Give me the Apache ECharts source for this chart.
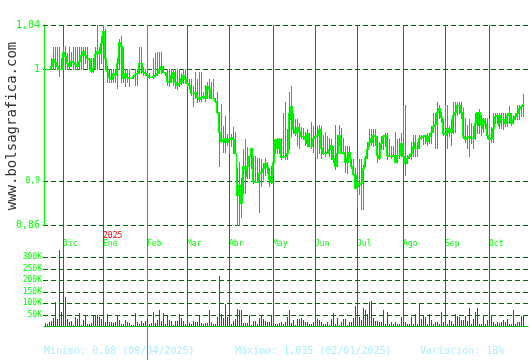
<!DOCTYPE html>
<html><head><meta charset="utf-8">
<script src="https://cdn.jsdelivr.net/npm/echarts@6/dist/echarts.min.js"></script>
<style>html,body{margin:0;padding:0;background:#fff}#c{width:530px;height:360px}</style>
</head><body><div id="c"></div>
<script>
// ---- data (one entry per trading day, late Nov 2024 -> late Oct 2025) ----
const open = [
1.000,1.000,1.000,1.000,1.003,1.009,1.007,1.003,1.000,1.000,
1.016,1.012,1.006,1.003,1.008,1.007,1.005,1.003,1.008,1.013,
1.017,1.013,1.010,1.009,0.999,1.001,1.014,1.017,1.015,1.024,
1.035,1.002,0.999,0.993,0.991,0.997,0.995,1.006,1.025,1.012,
0.992,0.997,0.993,0.992,0.992,0.994,0.996,0.997,1.006,1.002,
0.998,0.997,0.995,0.993,0.993,0.994,0.995,0.997,1.000,1.003,
0.998,0.997,0.990,0.989,0.992,0.998,0.989,0.986,0.988,0.989,
0.995,0.991,0.988,0.986,0.979,0.979,0.980,0.975,0.973,0.975,
0.976,0.976,0.985,0.982,0.974,0.974,0.972,0.962,0.944,0.936,
0.935,0.938,0.935,0.937,0.939,0.931,0.893,0.887,0.887,0.904,
0.913,0.904,0.913,0.922,0.920,0.900,0.899,0.904,0.907,0.908,
0.911,0.916,0.905,0.904,0.910,0.929,0.937,0.929,0.925,0.921,
0.922,0.922,0.947,0.955,0.950,0.946,0.943,0.948,0.941,0.940,
0.940,0.934,0.932,0.931,0.931,0.938,0.940,0.941,0.940,0.926,
0.925,0.926,0.925,0.928,0.926,0.920,0.913,0.932,0.926,0.925,
0.921,0.921,0.922,0.914,0.913,0.904,0.905,0.895,0.897,0.898,
0.913,0.920,0.931,0.935,0.935,0.941,0.932,0.923,0.929,0.937,
0.940,0.932,0.923,0.922,0.922,0.919,0.917,0.923,0.925,0.926,
0.917,0.916,0.920,0.922,0.925,0.935,0.929,0.932,0.938,0.939,
0.940,0.940,0.937,0.940,0.944,0.949,0.955,0.962,0.961,0.949,
0.943,0.941,0.944,0.946,0.950,0.959,0.962,0.968,0.965,0.955,
0.938,0.937,0.939,0.940,0.938,0.943,0.958,0.950,0.953,0.947,
0.955,0.952,0.941,0.937,0.938,0.955,0.958,0.950,0.953,0.955,
0.955,0.952,0.959,0.955,0.952,0.955,0.958,0.962,0.965,0.967];
const close = [
1.000,1.000,1.000,1.003,1.009,1.007,1.003,1.000,1.000,1.016,
1.012,1.006,1.003,1.008,1.007,1.005,1.003,1.008,1.013,1.017,
1.013,1.010,1.009,0.999,1.001,1.014,1.017,1.015,1.024,1.035,
1.010,0.999,0.993,0.991,0.997,0.995,1.006,1.025,1.021,0.992,
0.997,0.993,0.992,0.992,0.994,0.996,0.997,1.006,1.006,0.998,
0.997,0.995,0.993,0.993,0.994,0.995,0.997,1.000,1.003,0.998,
0.997,0.990,0.989,0.995,0.998,0.989,0.986,0.988,0.992,0.995,
0.991,0.988,0.986,0.979,0.979,0.980,0.975,0.973,0.975,0.976,
0.974,0.985,0.982,0.974,0.974,0.972,0.962,0.944,0.936,0.937,
0.938,0.935,0.937,0.939,0.937,0.925,0.887,0.896,0.880,0.913,
0.910,0.913,0.922,0.929,0.900,0.899,0.899,0.907,0.908,0.911,
0.916,0.912,0.901,0.899,0.917,0.937,0.929,0.937,0.921,0.922,
0.922,0.925,0.961,0.967,0.946,0.943,0.948,0.945,0.940,0.940,
0.937,0.943,0.931,0.931,0.938,0.940,0.941,0.946,0.929,0.925,
0.925,0.925,0.928,0.932,0.919,0.913,0.925,0.941,0.925,0.926,
0.917,0.917,0.926,0.913,0.906,0.893,0.898,0.897,0.898,0.911,
0.920,0.928,0.935,0.938,0.941,0.940,0.923,0.920,0.934,0.940,
0.941,0.923,0.922,0.922,0.923,0.917,0.923,0.923,0.934,0.922,
0.916,0.920,0.922,0.925,0.931,0.929,0.929,0.938,0.939,0.940,
0.941,0.936,0.940,0.944,0.949,0.951,0.962,0.965,0.957,0.943,
0.942,0.947,0.946,0.944,0.959,0.962,0.968,0.968,0.962,0.940,
0.937,0.939,0.940,0.938,0.938,0.952,0.962,0.962,0.950,0.955,
0.952,0.941,0.937,0.938,0.947,0.958,0.959,0.959,0.955,0.955,
0.952,0.959,0.961,0.952,0.955,0.958,0.961,0.965,0.967,0.969];
const high = [
1.000,1.000,1.000,1.010,1.020,1.020,1.020,1.020,1.010,1.020,
1.021,1.015,1.020,1.016,1.020,1.020,1.020,1.020,1.020,1.020,
1.020,1.020,1.010,1.010,1.010,1.020,1.040,1.020,1.030,1.040,
1.036,1.003,1.000,1.000,1.000,1.000,1.010,1.027,1.030,1.020,
1.000,1.000,1.000,0.992,0.995,1.000,1.000,1.020,1.020,1.002,
1.000,0.997,0.997,0.993,1.010,1.015,1.016,1.016,1.016,1.003,
0.998,1.000,1.000,1.000,1.000,1.000,1.000,1.000,0.997,1.000,
1.000,0.991,0.991,0.991,0.985,0.998,0.991,0.998,0.998,0.980,
0.986,0.989,0.991,0.989,0.991,0.974,0.980,0.962,0.969,0.949,
0.958,0.942,0.963,0.942,0.948,0.944,0.911,0.917,0.902,0.928,
0.937,0.930,0.922,0.929,0.922,0.922,0.920,0.920,0.919,0.916,
0.920,0.917,0.911,0.913,0.937,0.937,0.938,0.938,0.938,0.961,
0.971,0.946,0.980,0.985,0.961,0.955,0.955,0.952,0.948,0.947,
0.944,0.946,0.943,0.953,0.949,0.941,0.949,0.950,0.949,0.941,
0.944,0.940,0.938,0.937,0.931,0.950,0.941,0.950,0.947,0.938,
0.931,0.931,0.931,0.919,0.919,0.911,0.919,0.919,0.919,0.914,
0.922,0.935,0.946,0.946,0.946,0.946,0.940,0.935,0.940,0.941,
0.943,0.943,0.937,0.931,0.931,0.944,0.937,0.938,0.943,0.968,
0.968,0.923,0.924,0.935,0.941,0.941,0.935,0.941,0.941,0.941,
0.941,0.943,0.943,0.949,0.961,0.961,0.971,0.968,0.962,0.955,
0.968,0.968,0.949,0.955,0.971,0.971,0.971,0.971,0.971,0.965,
0.956,0.950,0.955,0.952,0.949,0.961,0.962,0.964,0.959,0.956,
0.956,0.956,0.955,0.948,0.961,0.961,0.961,0.961,0.961,0.961,
0.961,0.961,0.967,0.961,0.959,0.961,0.968,0.968,0.968,0.978];
const low = [
1.000,1.000,1.000,1.000,1.000,1.000,1.000,0.994,1.000,1.000,
1.000,1.000,1.000,1.003,1.000,1.000,1.000,1.000,1.000,1.000,
1.006,1.000,1.000,0.998,0.998,1.000,1.000,1.000,1.006,1.000,
1.000,0.989,0.989,0.989,0.989,0.989,0.983,1.000,0.989,0.989,
0.985,0.989,0.985,0.992,0.992,0.986,0.986,0.997,0.997,0.995,
0.995,0.995,0.992,0.993,0.992,0.994,0.995,0.997,0.997,0.998,
0.995,0.986,0.985,0.989,0.986,0.983,0.982,0.985,0.987,0.988,
0.988,0.985,0.982,0.977,0.967,0.974,0.971,0.972,0.972,0.974,
0.972,0.974,0.974,0.974,0.974,0.971,0.961,0.913,0.935,0.926,
0.926,0.932,0.925,0.931,0.925,0.925,0.860,0.860,0.867,0.889,
0.889,0.902,0.902,0.911,0.898,0.899,0.899,0.872,0.895,0.901,
0.905,0.907,0.895,0.898,0.905,0.925,0.925,0.925,0.919,0.921,
0.919,0.919,0.928,0.940,0.943,0.941,0.932,0.929,0.938,0.937,
0.932,0.931,0.931,0.929,0.926,0.922,0.920,0.925,0.920,0.924,
0.922,0.925,0.922,0.919,0.917,0.910,0.913,0.932,0.925,0.925,
0.908,0.907,0.920,0.911,0.905,0.893,0.876,0.888,0.874,0.874,
0.913,0.920,0.931,0.932,0.931,0.932,0.917,0.919,0.928,0.928,
0.931,0.919,0.922,0.920,0.922,0.917,0.917,0.920,0.922,0.916,
0.905,0.916,0.920,0.919,0.922,0.922,0.922,0.929,0.937,0.933,
0.934,0.932,0.934,0.934,0.944,0.929,0.929,0.956,0.953,0.941,
0.941,0.929,0.940,0.932,0.943,0.944,0.959,0.961,0.956,0.938,
0.935,0.929,0.922,0.934,0.929,0.937,0.943,0.943,0.941,0.944,
0.947,0.938,0.935,0.935,0.935,0.952,0.952,0.947,0.947,0.946,
0.949,0.949,0.952,0.950,0.952,0.955,0.955,0.955,0.958,0.958];
const volumeK = [
11,8,17,20,35,105,30,330,61,234,
128,29,18,21,4,39,30,57,5,26,
44,10,10,13,48,48,48,41,29,17,
18,53,17,17,11,17,48,25,10,7,
26,16,11,4,4,56,17,8,21,14,
21,35,10,13,61,14,26,70,21,57,
8,44,26,23,4,21,21,53,35,20,
8,20,11,8,21,17,17,44,11,8,
11,11,70,17,8,8,39,220,53,33,
97,39,41,8,21,30,74,70,70,13,
13,13,48,4,21,21,8,35,44,30,
22,17,17,48,8,8,8,14,17,8,
17,39,70,11,26,4,31,31,35,26,
17,17,8,8,17,26,31,26,17,8,
8,17,4,31,57,8,35,4,17,31,
31,4,17,17,35,88,17,39,26,79,
70,53,106,110,35,22,22,17,17,70,
8,62,8,17,8,17,8,8,39,17,
17,8,8,39,8,53,8,97,31,44,
39,8,53,26,8,17,17,8,62,17,
17,8,26,22,8,53,44,39,26,26,
44,22,79,8,31,62,79,8,8,48,
8,26,62,48,17,8,17,13,17,26,
17,31,8,8,70,8,17,17,44,44];
const monthIdx = [9,29,51,71,92,114,135,156,179,200,222];
const monthLabels = ['Dic','Ene','Feb','Mar','Abr','May','Jun','Jul','Ago','Sep','Oct'];
const yearIdx = 29, yearLabel = '2025';
const priceTicks = [0.86, 0.9, 1, 1.04];
const priceTickText = ['0,86', '0,9', '1', '1,04'];
const volTicksK = [50, 100, 150, 200, 250, 300];
const cursorIdx = 51;
const footer = ['Mínimo: 0,88 (09/04/2025)', 'Máximo: 1,035 (02/01/2025)', 'Variación: 18%'];

// ---- styles ----
const TEAL = '#1ea0b2', GREEN = '#00ff00', BODY = '#00e600', RED = '#f00000';
const MONTH = '#009000', DASH = '#006a00', MONO = '"DejaVu Sans Mono", monospace';

const N = close.length;
const cats = Array.from({length: N + 2}, (_, i) => String(i));

function box(x, y, w, h, fill) {
  return {type: 'rect', shape: {x: x, y: y, width: w, height: h}, style: {fill: fill, stroke: 'none', lineWidth: 0}};
}
function priceItem(params, api) {
  const i = api.value(0);
  const pO = api.coord([i, api.value(1)]), pC = api.coord([i, api.value(2)]);
  const pL = api.coord([i, api.value(3)]), pH = api.coord([i, api.value(4)]);
  const x = Math.floor(pC[0]);
  const ch = [];
  const yh = Math.round(pH[1]), yl = Math.round(pL[1]);
  if (yl - yh > 0) ch.push(box(x, yh, 1, yl - yh + 1, TEAL));
  const t = Math.round(Math.min(pO[1], pC[1])), b = Math.round(Math.max(pO[1], pC[1]));
  if (b - t >= 1) ch.push(box(x - 1, t, 1, b - t + 1, BODY));
  const yc = Math.round(pC[1]);
  ch.push(box(x - 1, yc, 2, 1, GREEN));
  if (i > 0) {
    const yp = Math.round(api.coord([i - 1, close[i - 1]])[1]);
    ch.push(box(x - 1, Math.min(yp, yc), 1, Math.abs(yp - yc) + 1, GREEN));
  }
  return {type: 'group', children: ch};
}
function volItem(params, api) {
  const i = api.value(0);
  const p = api.coord([i, api.value(1)]), p0 = api.coord([i, 0]);
  const x = Math.floor(p[0]);
  const t = Math.round(p[1]), b = Math.round(p0[1]);
  return box(x, t, 1, b - t, RED);
}
function vLine(color) {
  return function (params, api) {
    const x = Math.floor(api.coord([api.value(0), 0])[0]);
    const cs = params.coordSys;
    return box(x, cs.y, 1, cs.height, color);
  };
}
function hDash(params, api) {
  const y = Math.round(api.coord([0, api.value(1)])[1]) + 0.5;
  const cs = params.coordSys;
  return {type: 'line', shape: {x1: cs.x - 1, y1: y, x2: cs.x + cs.width, y2: y},
    style: {stroke: DASH, fill: 'none', lineWidth: 1, lineDash: [5, 3]}};
}

const xBase = {type: 'category', data: cats, boundaryGap: true,
  axisLine: {show: false}, axisTick: {show: false}, axisLabel: {show: false}, splitLine: {show: false}};

const option = {
  animation: false,
  backgroundColor: '#fff',
  grid: [
    {left: 44, top: 25, width: 484, height: 200},
    {left: 44, top: 250, width: 484, height: 76},
    {left: 44, top: 25, width: 484, height: 301},
    {left: 44, top: 25, width: 484, height: 335}
  ],
  xAxis: [
    Object.assign({}, xBase, {gridIndex: 0, axisLabel: {
      show: true, interval: (idx) => monthIdx.indexOf(idx) >= 0,
      align: 'left', verticalAlign: 'bottom', margin: 23,
      formatter: (v, idx) => {
        const k = monthIdx.indexOf(idx);
        if (k < 0) return '';
        return idx === yearIdx ? '{y|' + yearLabel + '}\n{m|' + monthLabels[k] + '}' : '{m|' + monthLabels[k] + '}';
      },
      rich: {
        m: {color: GREEN, fontSize: 8, fontFamily: MONO, lineHeight: 8},
        y: {color: '#ff0000', fontSize: 8, fontFamily: MONO, lineHeight: 8}
      }
    }}),
    Object.assign({}, xBase, {gridIndex: 1, axisLine: {show: true, lineStyle: {color: '#00c000', width: 1}}}),
    Object.assign({}, xBase, {gridIndex: 2}),
    Object.assign({}, xBase, {gridIndex: 3})
  ],
  yAxis: [
    {type: 'value', gridIndex: 0, min: 0.86, max: 1.04, interval: 0.02,
      axisLine: {show: true, lineStyle: {color: GREEN}}, axisTick: {show: false}, splitLine: {show: false},
      axisLabel: {margin: 4, color: GREEN, fontFamily: MONO,
        formatter: (v) => {
          const k = priceTicks.findIndex(t => Math.abs(t - v) < 1e-6);
          if (k < 0) return '';
          return priceTicks[k] === 0.9 ? '{s|' + priceTickText[k] + '}' : '{b|' + priceTickText[k] + '}';
        },
        rich: {s: {fontSize: 8, fontFamily: MONO, color: GREEN}, b: {fontSize: 10, fontFamily: MONO, color: GREEN}}
      }},
    {type: 'value', gridIndex: 1, min: 0, max: 332, interval: 50,
      axisLine: {show: false}, axisTick: {show: false}, splitLine: {show: false},
      axisLabel: {margin: 2, color: GREEN, fontSize: 8, fontFamily: MONO,
        formatter: (v) => volTicksK.indexOf(v) >= 0 ? v + 'K' : ''}},
    {type: 'value', gridIndex: 2, min: 0, max: 1, show: false},
    {type: 'value', gridIndex: 3, min: 0, max: 1, show: false}
  ],
  series: [
    {type: 'custom', xAxisIndex: 2, yAxisIndex: 2, data: monthIdx.map(i => [i]), renderItem: vLine(MONTH), silent: true, z: 1},
    {type: 'custom', xAxisIndex: 0, yAxisIndex: 0, data: priceTicks.map(v => [0, v]), renderItem: hDash, silent: true, z: 1},
    {type: 'custom', xAxisIndex: 1, yAxisIndex: 1, data: volTicksK.map(v => [0, v]), renderItem: hDash, silent: true, z: 1},
    {type: 'custom', xAxisIndex: 3, yAxisIndex: 3, data: [[cursorIdx]], renderItem: vLine(TEAL), silent: true, z: 2},
    {type: 'custom', xAxisIndex: 1, yAxisIndex: 1, data: volumeK.map((v, i) => [i, v]), renderItem: volItem, silent: true, z: 3},
    {type: 'custom', xAxisIndex: 0, yAxisIndex: 0, data: close.map((c, i) => [i, open[i], c, low[i], high[i]]), renderItem: priceItem, silent: true, z: 3}
  ],
  graphic: [
    {type: 'text', x: 12, y: 126, rotation: Math.PI / 2,
      style: {text: 'www.bolsagrafica.com', font: '14px ' + MONO, fill: '#333', align: 'center', verticalAlign: 'middle'}},
    {type: 'text', x: 44, y: 351, style: {text: footer[0], font: '10px ' + MONO, fill: '#aaeeff', verticalAlign: 'middle'}},
    {type: 'text', x: 235, y: 351, style: {text: footer[1], font: '10px ' + MONO, fill: '#aaeeff', verticalAlign: 'middle'}},
    {type: 'text', x: 420, y: 351, style: {text: footer[2], font: '10px ' + MONO, fill: '#aaeeff', verticalAlign: 'middle'}}
  ]
};
const chart = echarts.init(document.getElementById('c'), null, {renderer: 'canvas'});
chart.setOption(option);
</script>
</body></html>
